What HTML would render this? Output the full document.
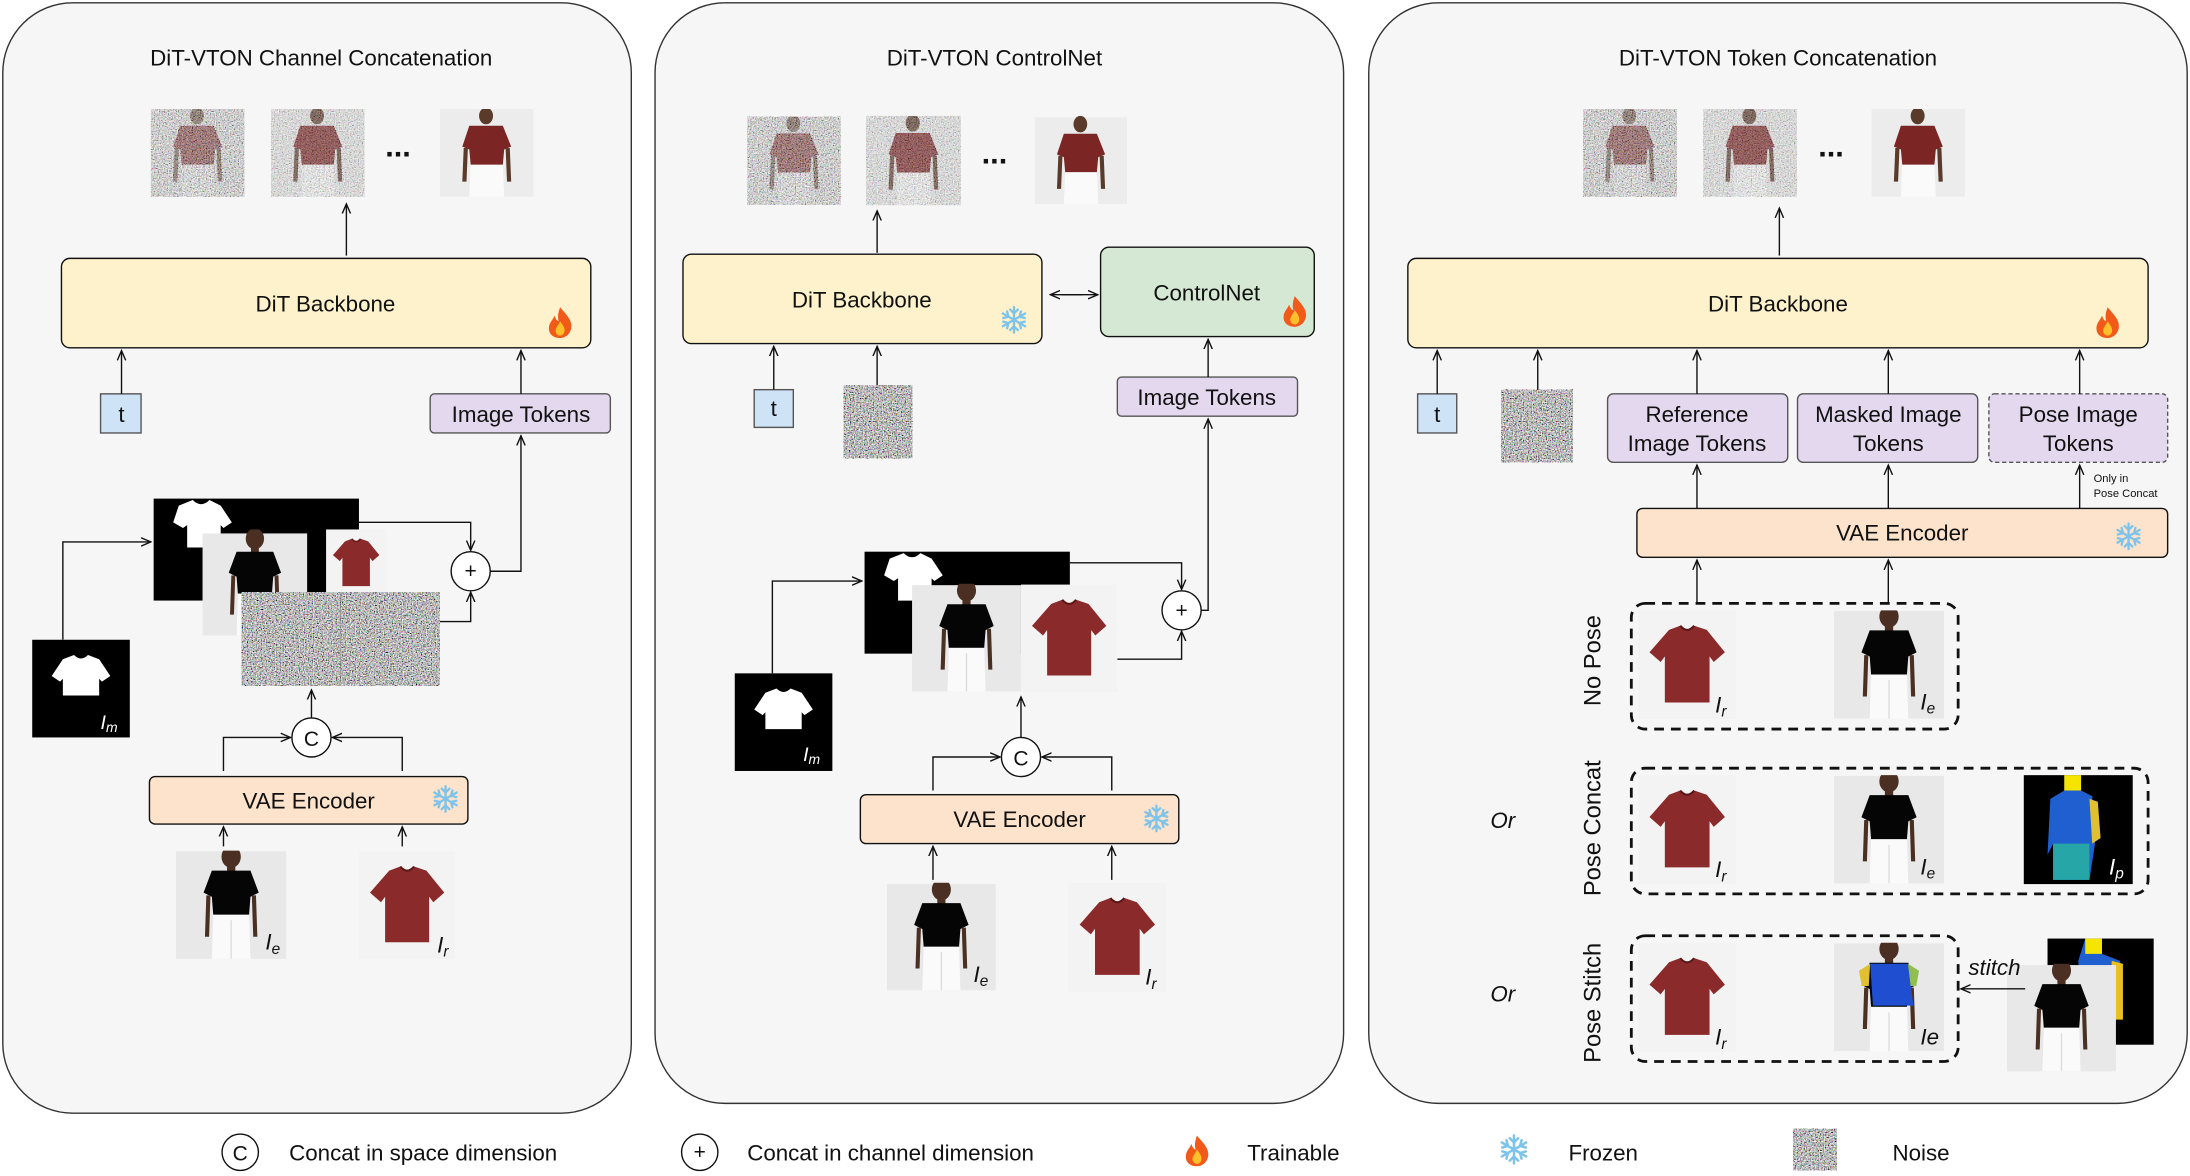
<!DOCTYPE html>
<html><head><meta charset="utf-8"><style>
html,body{margin:0;padding:0;background:#fff;}
svg{display:block;}
text{font-family:"Liberation Sans",sans-serif;fill:#111;}
</style></head><body>
<svg width="2190" height="1176" viewBox="0 0 1568 842" xmlns="http://www.w3.org/2000/svg">
<defs>
<marker id="ah" markerWidth="8" markerHeight="8" refX="7" refY="4" orient="auto" markerUnits="userSpaceOnUse"><path d="M0,1 L7,4 L0,7" fill="none" stroke="#111" stroke-width="1"/></marker>
<filter id="nz" x="0" y="0" width="100%" height="100%"><feTurbulence type="fractalNoise" baseFrequency="1.1" numOctaves="2" seed="3"/><feColorMatrix type="matrix" values="1.7 0.75 0.75 0 -1.1  0.75 1.7 0.75 0 -1.1  0.75 0.75 1.7 0 -1.1  0 0 0 0 1"/></filter>
<symbol id="shirt" viewBox="0 0 70 78"><rect width="70" height="78" fill="#f3f3f3"/><path d="M22 14 L30 11 Q35 17 40 11 L49 14 L62 30 L54 37 L51 33 L51 66 L19 66 L19 33 L16 37 L8 30 Z" fill="#8a2a2a"/><path d="M30 11 Q35 17 40 11" fill="none" stroke="#5a1616" stroke-width="1.5"/></symbol>
<symbol id="person" viewBox="0 0 80 78"><rect width="80" height="78" fill="#e8e8e8"/><ellipse cx="40" cy="4" rx="7" ry="8" fill="#4a2f22"/><rect x="37" y="8" width="6" height="8" fill="#4a2f22"/><path d="M26 14 L54 14 L60 30 L54 33 L53 46 L27 46 L26 33 L20 30 Z" fill="#050505"/><path d="M22 32 L25 32 L24 62 L21 62 Z M55 32 L58 32 L59 62 L56 62 Z" fill="#4a2f22"/><path d="M27 46 L53 46 L54 78 L26 78 Z" fill="#fafafa"/><line x1="40" y1="50" x2="40" y2="78" stroke="#ddd"/></symbol>
<symbol id="maroonp" viewBox="0 0 67 63"><rect width="67" height="63" fill="#ececec"/><ellipse cx="33" cy="5" rx="5" ry="6" fill="#5a3a2a"/><path d="M21 12 L45 12 L51 27 L46 29 L45 40 L22 40 L21 29 L16 27 Z" fill="#7c2525"/><path d="M22 40 L45 40 L46 63 L21 63 Z" fill="#fafafa"/><path d="M17 28 L20 28 L19 52 L16 52Z M47 28 L50 28 L51 52 L48 52Z" fill="#5a3a2a"/></symbol>
<symbol id="noisyp" viewBox="0 0 67 63"><use href="#maroonp" width="67" height="63"/><rect width="67" height="63" filter="url(#nz)" opacity="0.6"/></symbol>
<symbol id="noisyp2" viewBox="0 0 67 63"><use href="#maroonp" width="67" height="63"/><rect width="67" height="63" filter="url(#nz)" opacity="0.4"/></symbol>
<symbol id="mask" viewBox="0 0 70 70"><rect width="70" height="70" fill="#000"/><path d="M22 14 L30 11 Q35 16 40 11 L48 14 L56 26 L50 30 L48 28 L48 40 L22 40 L22 28 L20 30 L14 26 Z" fill="#fff"/></symbol>
<symbol id="fire" viewBox="0 0 20 24"><path d="M10 1 C14 6 19 10 18 16 C17 21 13 23 10 23 C6 23 2 21 2 16 C2 12 5 10 6 7 C7 10 8 11 9 11 C8 7 9 4 10 1Z" fill="#f25a1a"/><path d="M10 11 C12 14 14 16 13 19 C12 22 8 22 7 19 C6 16 9 14 10 11Z" fill="#ffc02a"/></symbol>
<symbol id="snow" viewBox="-12 -12 24 24"><g stroke="#7ec3ea" stroke-width="1.8" stroke-linecap="round" fill="none"><line x1="0" y1="-10" x2="0" y2="10"/><line x1="-8.7" y1="-5" x2="8.7" y2="5"/><line x1="-8.7" y1="5" x2="8.7" y2="-5"/><path d="M-3 -8 L0 -5 L3 -8 M-3 8 L0 5 L3 8"/><path d="M-8.4 -1.4 L-4.3 -2.5 L-5.4 -6.6 M8.4 1.4 L4.3 2.5 L5.4 6.6 M-8.4 1.4 L-4.3 2.5 L-5.4 6.6 M8.4 -1.4 L4.3 -2.5 L5.4 -6.6"/></g></symbol>
</defs>
<g stroke="#222" stroke-width="1" fill="none">
<rect x="2" y="2" width="450" height="795" rx="50" fill="#f6f6f6" stroke="#333"/>
<rect x="469" y="2" width="493" height="788" rx="50" fill="#f6f6f6" stroke="#333"/>
<rect x="980" y="2" width="586" height="788" rx="50" fill="#f6f6f6" stroke="#333"/>
</g>
<!-- Panel 1 -->
<text x="230" y="47" font-size="16" text-anchor="middle">DiT-VTON Channel Concatenation</text>
<use href="#noisyp" x="108" y="78" width="67" height="63"/><use href="#noisyp2" x="194" y="78" width="67" height="63"/>
<text x="285" y="112" font-size="22" font-weight="bold" text-anchor="middle">...</text>
<use href="#maroonp" x="315" y="78" width="67" height="63"/>
<g stroke="#111" fill="none" stroke-width="1">
<line x1="248" y1="183" x2="248" y2="146" marker-end="url(#ah)"/>
<rect x="44" y="185" width="379" height="64" rx="6" fill="#fdf2cc"/>
<rect x="72" y="282" width="29" height="28" fill="#cfe3f7" stroke="#555"/>
<rect x="308" y="282" width="129" height="28" rx="3" fill="#e4d8ee" stroke="#555"/>
<line x1="87" y1="282" x2="87" y2="251" marker-end="url(#ah)"/>
<line x1="373" y1="282" x2="373" y2="251" marker-end="url(#ah)"/>
<polyline points="257,374 337,374 337,394" marker-end="url(#ah)"/>
<polyline points="315,445 337,445 337,424" marker-end="url(#ah)"/>
<polyline points="351,409 373,409 373,312" marker-end="url(#ah)"/>
<circle cx="337" cy="409" r="14" fill="#fff"/>
<polyline points="45,458 45,388 108,388" marker-end="url(#ah)"/>
<line x1="223" y1="514" x2="223" y2="494" marker-end="url(#ah)"/>
<polyline points="160,552 160,528 208,528" marker-end="url(#ah)"/>
<polyline points="288,552 288,528 238,528" marker-end="url(#ah)"/>
<circle cx="223" cy="528" r="14" fill="#fff"/>
<rect x="107" y="556" width="228" height="34" rx="4" fill="#fde3cb"/>
<line x1="160" y1="606" x2="160" y2="592" marker-end="url(#ah)"/>
<line x1="288" y1="606" x2="288" y2="592" marker-end="url(#ah)"/>
</g>
<text x="233" y="223" font-size="16" text-anchor="middle">DiT Backbone</text>
<use href="#fire" x="391" y="219" width="20" height="24"/>
<text x="87" y="302" font-size="16" text-anchor="middle">t</text>
<text x="373" y="302" font-size="16" text-anchor="middle">Image Tokens</text>
<rect x="110" y="357" width="147" height="73" fill="#000"/>
<path d="M128 362 L138 358 Q144 364 150 358 L158 362 L166 374 L160 378 L158 376 L158 392 L134 392 L134 376 L131 378 L124 374Z" fill="#fff"/>
<use href="#person" x="145" y="379" width="75" height="79"/>
<use href="#shirt" x="220" y="379" width="70" height="48"/>
<rect x="173" y="424" width="142" height="67" filter="url(#nz)"/>
<line x1="244" y1="424" x2="244" y2="491" stroke="#888" stroke-width="0.5"/>
<text x="337" y="414" font-size="15" text-anchor="middle">+</text>
<use href="#mask" x="23" y="458" width="70" height="70"/>
<text x="72" y="522" font-size="14" font-style="italic" style="fill:#fff">I<tspan font-size="10" dy="2" style="fill:#fff">m</tspan></text>
<text x="223" y="534" font-size="15" text-anchor="middle">C</text>
<text x="221" y="579" font-size="16" text-anchor="middle">VAE Encoder</text>
<use href="#snow" x="308" y="561" width="22" height="22"/>
<use href="#person" x="126" y="609" width="79" height="78"/>
<text x="190" y="680" font-size="16" font-style="italic">I<tspan font-size="11" dy="3">e</tspan></text>
<use href="#shirt" x="257" y="609" width="69" height="78"/>
<text x="313" y="682" font-size="16" font-style="italic">I<tspan font-size="11" dy="3">r</tspan></text>
<!-- Panel 2 -->
<text x="712" y="47" font-size="16" text-anchor="middle">DiT-VTON ControlNet</text>
<use href="#noisyp" x="535" y="83" width="67" height="64"/><use href="#noisyp2" x="620" y="83" width="68" height="64"/>
<text x="712" y="117" font-size="22" font-weight="bold" text-anchor="middle">...</text>
<use href="#maroonp" x="741" y="83" width="66" height="64"/>
<g stroke="#111" fill="none" stroke-width="1">
<line x1="628" y1="181" x2="628" y2="151" marker-end="url(#ah)"/>
<rect x="489" y="182" width="257" height="64" rx="6" fill="#fdf2cc"/>
<rect x="788" y="177" width="153" height="64" rx="6" fill="#d5e8d4"/>
<line x1="760" y1="211" x2="786" y2="211" marker-end="url(#ah)"/>
<line x1="775" y1="211" x2="752" y2="211" marker-end="url(#ah)"/>
<rect x="540" y="279" width="28" height="27" fill="#cfe3f7" stroke="#555"/>
<line x1="554" y1="279" x2="554" y2="248" marker-end="url(#ah)"/>
<line x1="628" y1="276" x2="628" y2="248" marker-end="url(#ah)"/>
<rect x="800" y="270" width="129" height="28" rx="3" fill="#e4d8ee" stroke="#555"/>
<line x1="865" y1="270" x2="865" y2="243" marker-end="url(#ah)"/>
<polyline points="766,403 846,403 846,422" marker-end="url(#ah)"/>
<polyline points="800,472 846,472 846,452" marker-end="url(#ah)"/>
<polyline points="860,437 865,437 865,300" marker-end="url(#ah)"/>
<circle cx="846" cy="437" r="14" fill="#fff"/>
<polyline points="553,482 553,416 617,416" marker-end="url(#ah)"/>
<line x1="731" y1="528" x2="731" y2="499" marker-end="url(#ah)"/>
<polyline points="668,566 668,542 716,542" marker-end="url(#ah)"/>
<polyline points="796,566 796,542 746,542" marker-end="url(#ah)"/>
<circle cx="731" cy="542" r="14" fill="#fff"/>
<rect x="616" y="569" width="228" height="35" rx="4" fill="#fde3cb"/>
<line x1="668" y1="630" x2="668" y2="606" marker-end="url(#ah)"/>
<line x1="796" y1="630" x2="796" y2="606" marker-end="url(#ah)"/>
</g>
<text x="617" y="220" font-size="16" text-anchor="middle">DiT Backbone</text>
<use href="#snow" x="715" y="218" width="22" height="22"/>
<text x="864" y="215" font-size="16" text-anchor="middle">ControlNet</text>
<use href="#fire" x="917" y="211" width="20" height="24"/>
<text x="554" y="298" font-size="16" text-anchor="middle">t</text>
<rect x="604" y="276" width="49" height="52" filter="url(#nz)"/>
<text x="864" y="290" font-size="16" text-anchor="middle">Image Tokens</text>
<rect x="619" y="395" width="147" height="73" fill="#000"/>
<path d="M637 400 L647 396 Q653 402 659 396 L667 400 L675 412 L669 416 L667 414 L667 430 L643 430 L643 414 L640 416 L633 412Z" fill="#fff"/>
<use href="#person" x="653" y="418" width="78" height="78"/>
<use href="#shirt" x="731" y="418" width="69" height="78"/>
<text x="846" y="442" font-size="15" text-anchor="middle">+</text>
<use href="#mask" x="526" y="482" width="70" height="70"/>
<text x="575" y="545" font-size="14" font-style="italic" style="fill:#fff">I<tspan font-size="10" dy="2" style="fill:#fff">m</tspan></text>
<text x="731" y="548" font-size="15" text-anchor="middle">C</text>
<text x="730" y="592" font-size="16" text-anchor="middle">VAE Encoder</text>
<use href="#snow" x="817" y="575" width="22" height="22"/>
<use href="#person" x="635" y="632" width="78" height="78"/>
<text x="697" y="703" font-size="16" font-style="italic">I<tspan font-size="11" dy="3">e</tspan></text>
<use href="#shirt" x="765" y="632" width="70" height="78"/>
<text x="820" y="705" font-size="16" font-style="italic">I<tspan font-size="11" dy="3">r</tspan></text>
<!-- Panel 3 -->
<text x="1273" y="47" font-size="16" text-anchor="middle">DiT-VTON Token Concatenation</text>
<use href="#noisyp" x="1133" y="78" width="68" height="63"/><use href="#noisyp2" x="1219" y="78" width="68" height="63"/>
<text x="1311" y="112" font-size="22" font-weight="bold" text-anchor="middle">...</text>
<use href="#maroonp" x="1340" y="78" width="67" height="63"/>
<g stroke="#111" fill="none" stroke-width="1">
<line x1="1274" y1="183" x2="1274" y2="149" marker-end="url(#ah)"/>
<rect x="1008" y="185" width="530" height="64" rx="6" fill="#fdf2cc"/>
<rect x="1015" y="282" width="28" height="28" fill="#cfe3f7" stroke="#555"/>
<line x1="1029" y1="282" x2="1029" y2="251" marker-end="url(#ah)"/>
<line x1="1101" y1="279" x2="1101" y2="251" marker-end="url(#ah)"/>
<rect x="1151" y="282" width="129" height="49" rx="4" fill="#e4d8ee" stroke="#555"/>
<rect x="1287" y="282" width="129" height="49" rx="4" fill="#e4d8ee" stroke="#555"/>
<rect x="1424" y="282" width="128" height="49" rx="4" fill="#e4d8ee" stroke="#555" stroke-dasharray="3,2"/>
<line x1="1215" y1="282" x2="1215" y2="251" marker-end="url(#ah)"/>
<line x1="1352" y1="282" x2="1352" y2="251" marker-end="url(#ah)"/>
<line x1="1489" y1="282" x2="1489" y2="251" marker-end="url(#ah)"/>
<line x1="1215" y1="364" x2="1215" y2="333" marker-end="url(#ah)"/>
<line x1="1352" y1="364" x2="1352" y2="333" marker-end="url(#ah)"/>
<line x1="1489" y1="364" x2="1489" y2="333" marker-end="url(#ah)"/>
<rect x="1172" y="364" width="380" height="35" rx="4" fill="#fde3cb"/>
<line x1="1215" y1="432" x2="1215" y2="401" marker-end="url(#ah)"/>
<line x1="1352" y1="432" x2="1352" y2="401" marker-end="url(#ah)"/>
<g stroke-width="2" stroke-dasharray="7,5"><rect x="1168" y="432" width="234" height="90" rx="10"/><rect x="1168" y="550" width="370" height="90" rx="10"/><rect x="1168" y="670" width="234" height="90" rx="10"/></g>
</g>
<text x="1273" y="223" font-size="16" text-anchor="middle">DiT Backbone</text>
<use href="#fire" x="1499" y="219" width="20" height="24"/>
<text x="1029" y="302" font-size="16" text-anchor="middle">t</text>
<rect x="1075" y="279" width="51" height="52" filter="url(#nz)"/>
<text x="1215" y="302" font-size="16" text-anchor="middle">Reference</text><text x="1215" y="323" font-size="16" text-anchor="middle">Image Tokens</text>
<text x="1352" y="302" font-size="16" text-anchor="middle">Masked Image</text><text x="1352" y="323" font-size="16" text-anchor="middle">Tokens</text>
<text x="1488" y="302" font-size="16" text-anchor="middle">Pose Image</text><text x="1488" y="323" font-size="16" text-anchor="middle">Tokens</text>
<text x="1499" y="345" font-size="8">Only in</text><text x="1499" y="356" font-size="8">Pose Concat</text>
<text x="1362" y="387" font-size="16" text-anchor="middle">VAE Encoder</text>
<use href="#snow" x="1513" y="373" width="22" height="22"/>
<text font-size="17" text-anchor="middle" transform="translate(1146,473) rotate(-90)">No Pose</text>
<text font-size="17" text-anchor="middle" transform="translate(1146,593) rotate(-90)">Pose Concat</text>
<text font-size="17" text-anchor="middle" transform="translate(1146,718) rotate(-90)">Pose Stitch</text>
<text x="1076" y="593" font-size="16" font-style="italic" text-anchor="middle">Or</text>
<text x="1076" y="717" font-size="16" font-style="italic" text-anchor="middle">Or</text>
<use href="#shirt" x="1172" y="437" width="72" height="78"/><text x="1228" y="510" font-size="16" font-style="italic">I<tspan font-size="11" dy="3">r</tspan></text>
<use href="#person" x="1313" y="437" width="79" height="78"/><text x="1375" y="508" font-size="16" font-style="italic">I<tspan font-size="11" dy="3">e</tspan></text>
<use href="#shirt" x="1172" y="555" width="72" height="78"/><text x="1228" y="628" font-size="16" font-style="italic">I<tspan font-size="11" dy="3">r</tspan></text>
<use href="#person" x="1313" y="555" width="79" height="78"/><text x="1375" y="626" font-size="16" font-style="italic">I<tspan font-size="11" dy="3">e</tspan></text>
<rect x="1449" y="555" width="78" height="78" fill="#000"/>
<path d="M1478 555 L1490 555 L1490 566 L1498 570 L1500 604 L1496 630 L1470 630 L1470 604 L1466 612 L1468 572 L1478 566Z" fill="#1f5fd0"/>
<path d="M1478 555 L1490 555 L1490 566 L1478 566Z" fill="#f5e400"/><path d="M1496 572 L1502 574 L1504 600 L1498 604Z" fill="#e0c030"/><path d="M1470 604 L1496 604 L1496 630 L1470 630Z" fill="#26a6a6"/>
<text x="1510" y="626" font-size="16" font-style="italic" style="fill:#fff">I<tspan font-size="11" dy="3" style="fill:#fff">p</tspan></text>
<use href="#shirt" x="1172" y="675" width="72" height="78"/><text x="1228" y="748" font-size="16" font-style="italic">I<tspan font-size="11" dy="3">r</tspan></text>
<use href="#person" x="1313" y="675" width="79" height="78"/>
<path d="M1339 690 L1366 690 L1370 720 L1341 720Z" fill="#1f4fd0"/><path d="M1331 695 L1339 690 L1338 706 L1333 706Z" fill="#e0c030"/><path d="M1366 690 L1374 695 L1372 706 L1368 706Z" fill="#8fbf50"/>
<text x="1375" y="748" font-size="16" font-style="italic">Ie</text>
<rect x="1466" y="672" width="76" height="76" fill="#000"/>
<path d="M1493 672 L1505 672 L1505 683 L1518 688 L1520 725 L1505 735 L1490 720 L1488 688Z" fill="#1f5fd0"/><path d="M1493 672 L1505 672 L1505 683 L1493 683Z" fill="#f5e400"/><path d="M1512 688 L1520 690 L1520 730 L1510 730Z" fill="#e8c020"/>
<use href="#person" x="1437" y="690" width="78" height="78"/>
<text x="1428" y="698" font-size="16" font-style="italic" text-anchor="middle">stitch</text>
<line x1="1450" y1="708" x2="1404" y2="708" stroke="#111" marker-end="url(#ah)"/>
<!-- Legend -->
<circle cx="172" cy="825" r="13" fill="#fff" stroke="#111"/><text x="172" y="831" font-size="15" text-anchor="middle">C</text>
<text x="207" y="831" font-size="16">Concat in space dimension</text>
<circle cx="501" cy="825" r="13" fill="#fff" stroke="#111"/><text x="501" y="830" font-size="15" text-anchor="middle">+</text>
<text x="535" y="831" font-size="16">Concat in channel dimension</text>
<use href="#fire" x="847" y="812" width="20" height="24"/><text x="893" y="831" font-size="16">Trainable</text>
<use href="#snow" x="1072" y="811" width="24" height="24"/><text x="1123" y="831" font-size="16">Frozen</text>
<rect x="1284" y="808" width="31" height="30" filter="url(#nz)"/><text x="1355" y="831" font-size="16">Noise</text>
</svg>
</body></html>
